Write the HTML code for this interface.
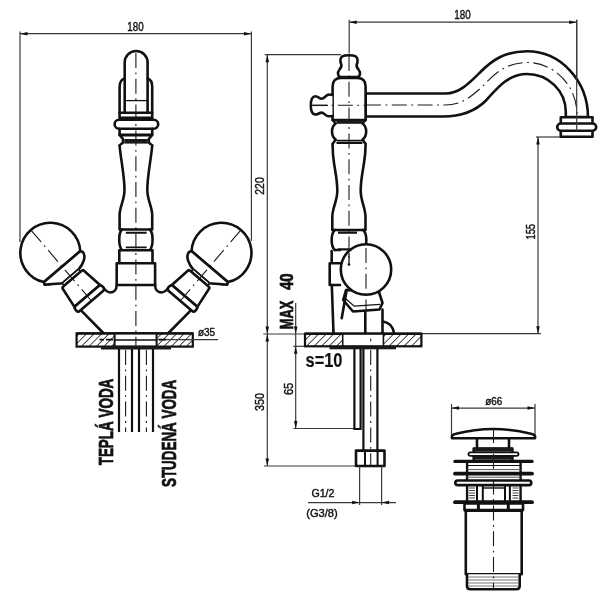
<!DOCTYPE html>
<html><head><meta charset="utf-8"><style>
html,body{margin:0;padding:0;background:#fff;}
svg{display:block;filter:grayscale(100%);}
text{font-family:"Liberation Sans",sans-serif;fill:#111;stroke:#111;stroke-width:0.4;}
text.b{stroke-width:0.7;}
.k{fill:none;stroke:#111;stroke-width:2.6;stroke-linejoin:round;stroke-linecap:round;}
.kw{fill:#fff;stroke:#111;stroke-width:2.6;stroke-linejoin:round;stroke-linecap:round;}
.t{fill:none;stroke:#111;stroke-width:1.3;}
.d{fill:none;stroke:#3a3a3a;stroke-width:1.2;}
.c{fill:none;stroke:#1a1a1a;stroke-width:1.1;stroke-dasharray:15 4.5 1.8 4.5;}
.ar{fill:#111;stroke:none;}
.dk{fill:#1a1a1a;stroke:none;}
</style></head><body>
<svg width="608" height="600" viewBox="0 0 608 600">
<defs>
<pattern id="h" patternUnits="userSpaceOnUse" width="5.3" height="5.3" patternTransform="rotate(45)">
<rect width="5.3" height="5.3" fill="#fff"/><line x1="0" y1="0" x2="0" y2="5.3" stroke="#111" stroke-width="1.55"/>
</pattern>
</defs>
<rect width="608" height="600" fill="#fff"/>

<line class="d" x1="20" y1="31.5" x2="20" y2="242"/>
<line class="d" x1="251.4" y1="31.5" x2="251.4" y2="241"/>
<line class="d" x1="20" y1="33.7" x2="251.4" y2="33.7"/>
<polygon class="ar" points="20.00,33.70 27.50,31.95 27.50,35.45"/>
<polygon class="ar" points="251.40,33.70 243.90,35.45 243.90,31.95"/>
<text x="135.5" y="30.6" font-size="12.5" font-weight="normal" textLength="16.4" lengthAdjust="spacingAndGlyphs" text-anchor="middle">180</text>
<path class="kw" d="M124.7,113 V62.45 A11.45,11.45 0 0 1 147.6,62.45 V113"/>
<line class="t" x1="124.7" y1="100.6" x2="147.6" y2="100.6"/>
<path class="k" d="M119.6,112.7 V87 Q119.6,80 124.7,78.6"/>
<path class="k" d="M152.2,112.7 V87 Q152.2,80 147.6,78.6"/>
<rect class="kw" x="119.6" y="112.7" width="32.6" height="5.2"/>
<rect class="kw" x="114.6" y="119.8" width="43.6" height="8.9" rx="4.45"/>
<path class="k" d="M119.6,128.7 V134.9 M152.2,128.7 V134.9"/>
<line x1="119.6" y1="134.9" x2="152.2" y2="134.9" stroke="#111" stroke-width="3"/>
<path class="k" d="M119.6,134.9 L123,139 L123,142.5 L119.6,145.5"/>
<path class="k" d="M152.2,134.9 L148.8,139 L148.8,142.5 L152.2,145.5"/>
<rect class="dk" x="124.3" y="139" width="23.5" height="4.6"/>
<path class="kw" d="M119.6,145.5 C120.5,158 124.5,175 124.5,190 C124.5,200 119.6,207 119.6,215 V229.5 H152.2 V215 C152.2,207 147.3,200 147.3,190 C147.3,175 151.3,158 152.2,145.5"/>
<path class="k" d="M122,229.5 C118.3,233 118.3,246 122,250.2 M149.8,229.5 C153.5,233 153.5,246 149.8,250.2"/>
<path d="M125.8,232.8 H146.6 M125.8,247.4 H146.6" stroke="#111" stroke-width="1.9"/>
<rect class="kw" x="119.3" y="250.2" width="33.2" height="13.1"/>
<rect class="kw" x="116.7" y="263.3" width="38.4" height="21.7"/>
<g id="hl">
<path class="k" d="M81.5,310.8 L103.3,333"/>
<path class="k" d="M103,287.5 C105.5,290.5 107.5,292.5 110.3,292.5 C113.5,292.5 116.7,290 116.7,285"/>
<g transform="translate(50.2,252.6) rotate(49.5)">
<path class="kw" d="M18.4,-23.85 A30,30 0 1 0 18.4,23.85 Z"/>
<path class="kw" d="M18.4,-23.85 L20.6,-25.2 C26.5,-25.2 30.2,-17.5 31.3,-10.5 L31.3,10.5 C28,15 24.5,20.5 20.6,25.2 L18.4,23.85 Z"/>
<rect x="31" y="-10.8" width="3.2" height="21.6" rx="1.2" fill="#fff" stroke="#111" stroke-width="1.5"/>
<path class="kw" d="M57,-16.8 L35,-13.8 Q34.2,-13.7 34.2,-11 L34.2,11 Q34.2,13.7 35,13.8 L57,16.8 Z"/>
<rect class="kw" x="57" y="-17.8" width="6.6" height="35.6" rx="2.6"/>
<line class="c" x1="-29" y1="0" x2="63" y2="0"/>
</g></g>
<use href="#hl" transform="translate(271.8,0) scale(-1,1)"/>
<rect x="76.6" y="333.4" width="116.2" height="13.2" fill="url(#h)" stroke="#111" stroke-width="2.2"/>
<line x1="76.6" y1="333.4" x2="192.8" y2="333.4" stroke="#111" stroke-width="2.4"/>
<rect x="114.6" y="333.6" width="42" height="12.8" fill="#fff" stroke="#111" stroke-width="2"/>
<line x1="114.6" y1="340" x2="156.6" y2="340" stroke="#111" stroke-width="1.6"/>
<rect class="dk" x="101" y="346.5" width="70" height="3"/>
<path d="M119,349 V432 M132,349 V432 M139,349 V432 M153,349 V432" stroke="#111" stroke-width="2.2" fill="none"/>
<path class="c" d="M125.6,350 V432 M146.4,350 V432"/>
<line class="d" x1="157" y1="339.7" x2="218" y2="339.7"/>
<path d="M99.5,339.6 H104 M106,339.6 H113" stroke="#111" stroke-width="1.8"/>
<path d="M159,339.6 H166" stroke="#111" stroke-width="1.8"/>
<text x="198" y="336.3" font-size="10.5" font-weight="normal" textLength="17.1" lengthAdjust="spacingAndGlyphs" text-anchor="start">ø35</text>
<text class="b" x="113" y="465.3" font-size="19.5" font-weight="bold" textLength="86.6" lengthAdjust="spacingAndGlyphs" text-anchor="start" transform="rotate(-90 113 465.3)">TEPLÁ VODA</text>
<text class="b" x="175.5" y="487" font-size="19.5" font-weight="bold" textLength="107.2" lengthAdjust="spacingAndGlyphs" text-anchor="start" transform="rotate(-90 175.5 487)">STUDENÁ VODA</text>
<line class="d" x1="349.2" y1="19.8" x2="349.2" y2="53.5"/>
<line class="d" x1="576.7" y1="19.8" x2="576.7" y2="131"/>
<line class="d" x1="349.2" y1="22.2" x2="576.7" y2="22.2"/>
<polygon class="ar" points="349.20,22.20 356.70,20.45 356.70,23.95"/>
<polygon class="ar" points="576.70,22.20 569.20,23.95 569.20,20.45"/>
<text x="462.5" y="19" font-size="12.5" font-weight="normal" textLength="16.4" lengthAdjust="spacingAndGlyphs" text-anchor="middle">180</text>
<line class="d" x1="264.7" y1="54.7" x2="341" y2="54.7"/>
<line class="d" x1="267.3" y1="54.7" x2="267.3" y2="466"/>
<polygon class="ar" points="267.30,54.70 269.05,62.20 265.55,62.20"/>
<polygon class="ar" points="267.30,334.00 265.55,326.50 269.05,326.50"/>
<polygon class="ar" points="267.30,334.00 269.05,341.50 265.55,341.50"/>
<polygon class="ar" points="267.30,466.00 265.55,458.50 269.05,458.50"/>
<text x="264.5" y="194.7" font-size="12.5" font-weight="normal" textLength="17.4" lengthAdjust="spacingAndGlyphs" text-anchor="start" transform="rotate(-90 264.5 194.7)">220</text>
<line class="d" x1="263.3" y1="334" x2="305" y2="334"/>
<line class="d" x1="421" y1="333.7" x2="541" y2="333.7"/>
<line class="d" x1="295.7" y1="303" x2="295.7" y2="428.5"/>
<polygon class="ar" points="295.70,334.00 293.95,326.50 297.45,326.50"/>
<polygon class="ar" points="295.70,346.30 297.45,353.80 293.95,353.80"/>
<polygon class="ar" points="295.70,428.50 293.95,421.00 297.45,421.00"/>
<line class="d" x1="293.3" y1="346.3" x2="305" y2="346.3"/>
<text class="b" x="292.8" y="329.2" font-size="18" font-weight="bold" textLength="28.6" lengthAdjust="spacingAndGlyphs" text-anchor="start" transform="rotate(-90 292.8 329.2)">MAX</text>
<text class="b" x="292.8" y="290.1" font-size="18" font-weight="bold" textLength="16.9" lengthAdjust="spacingAndGlyphs" text-anchor="start" transform="rotate(-90 292.8 290.1)">40</text>
<text x="264.1" y="410.9" font-size="12.5" font-weight="normal" textLength="18" lengthAdjust="spacingAndGlyphs" text-anchor="start" transform="rotate(-90 264.1 410.9)">350</text>
<text x="292.9" y="395.1" font-size="12.5" font-weight="normal" textLength="12.3" lengthAdjust="spacingAndGlyphs" text-anchor="start" transform="rotate(-90 292.9 395.1)">65</text>
<line class="d" x1="293.4" y1="428.5" x2="354" y2="428.5"/>
<line class="d" x1="264" y1="466" x2="356" y2="466"/>
<line class="d" x1="536" y1="137" x2="561" y2="137"/>
<line class="d" x1="538" y1="137" x2="538" y2="333.7"/>
<polygon class="ar" points="538.00,137.00 539.75,144.50 536.25,144.50"/>
<polygon class="ar" points="538.00,333.70 536.25,326.20 539.75,326.20"/>
<text x="534.5" y="239.5" font-size="12.5" font-weight="normal" textLength="15.5" lengthAdjust="spacingAndGlyphs" text-anchor="start" transform="rotate(-90 534.5 239.5)">155</text>
<path class="kw" d="M365.7,93.5 L446,93.5 C460,93.5 470,82 480,72.5 C492,60 505,51.3 527,51.3 A61,66 0 0 1 588,117 L565.8,117 L565.8,112 A38.8,38 0 0 0 527,74 C508,74 497,88.5 486,100.5 C476,110.5 463,116.5 443,116.5 L365.7,116.5 Z"/>
<path class="c" d="M366,105 L445,105 C462,105 472,96 483,86 C494,74 506,62.5 527,62.5 A50,52 0 0 1 577,114.5"/>
<rect class="kw" x="560.8" y="117.3" width="31.7" height="19.4"/>
<rect class="kw" x="557.2" y="123.5" width="39" height="7.2" rx="3.6"/>
<path class="kw" d="M340.5,77 C337.6,76.5 337.4,72 339.2,70 C340.9,68 341.9,66.5 341.3,64.5 C340.1,62 339.8,57.8 342.3,56.3 C345,54.9 353,54.9 355.7,56.3 C358.2,57.8 357.9,62 356.7,64.5 C356.1,66.5 357.1,68 358.8,70 C360.6,72 360.4,76.5 357.5,77 Z"/>
<path class="kw" d="M332.6,120 V86.5 Q332.6,78 341,78 H357.4 Q365.6,78 365.6,86.5 V120 Z"/>
<path class="kw" d="M332.5,95 C330.5,94.3 329,94.4 327.5,95 C325.5,95.8 324,98.8 321.5,98.8 C319.5,98.8 318,96.3 315.5,96.3 C312.5,96.3 310.8,99 310.8,105.5 C310.8,112 312.5,114.5 315.5,114.5 C318,114.5 319.5,112.6 321.5,112.6 C324,112.6 325.5,116 328,116.2 C329.5,116.3 331,116.3 332.5,116"/>
<line class="t" x1="312.5" y1="105.4" x2="328" y2="105.4"/>
<path class="k" d="M332.6,120 L335.7,123.5 C330.8,127 330.8,136 335.7,139.6 L332.6,144"/>
<path class="k" d="M365.6,120 L362.5,123.5 C367.4,127 367.4,136 362.5,139.6 L365.6,144"/>
<rect class="dk" x="336.5" y="120.3" width="26" height="3.5"/>
<path d="M336.5,140.6 H362.4 M336.5,143 H362.4" stroke="#111" stroke-width="1.8"/>
<path class="kw" d="M332.6,144 C332.6,152 333,157 334,163 C335.5,173 337.3,180 337.3,191 C337.3,201 332.3,208 332.3,217 V230 H365.5 V217 C365.5,208 360.7,201 360.7,191 C360.7,180 362.5,173 364,163 C365,157 365.6,152 365.6,144"/>
<path class="k" d="M334.8,230 C330.6,234 330.6,246 334.8,250 M363.2,230 C367.4,234 367.4,246 363.2,250"/>
<path d="M338,232.7 H357 M338,249.3 H357" stroke="#111" stroke-width="2.2"/>
<path class="k" d="M334.8,250 H340 M331.7,251 V263.3 M329.7,263.3 V285 H340 M329.7,263.3 H340"/>
<path class="k" d="M331.8,285 L333.5,333"/>
<path class="kw" d="M346,290 L343.2,300 L353,311.5 L379.5,309.5 L382.5,303 L379,292 Z"/>
<path class="t" d="M345.3,298.5 L354.3,306.2 L380.2,304.3"/>
<path class="k" d="M346.7,290 L341.7,318.3"/>
<path class="k" d="M365.3,311.5 V333 M382.5,309.5 V333"/>
<path class="k" d="M383,321.5 Q392.5,323 394,333"/>
<circle class="kw" cx="366" cy="269.5" r="25.2"/>
<path class="t" d="M349,253 V264"/><circle cx="349" cy="264.5" r="1.3" fill="#111"/>
<rect x="305" y="333.7" width="116.4" height="12.6" fill="url(#h)" stroke="#111" stroke-width="2.2"/>
<line x1="305" y1="333.7" x2="421.4" y2="333.7" stroke="#111" stroke-width="2.4"/>
<rect x="342.7" y="334" width="40.7" height="12" fill="#fff" stroke="#111" stroke-width="1.6"/>
<rect class="dk" x="329.5" y="346.4" width="66.5" height="2.9"/>
<text style="stroke-width:0.15" x="305.5" y="367" font-size="20" font-weight="bold" textLength="37" lengthAdjust="spacingAndGlyphs" text-anchor="start">s=10</text>
<path d="M354.4,349 V429 H360.6 V349 M363.4,349 V451 M377.4,349 V451" stroke="#111" stroke-width="2.2" fill="none"/>
<rect class="kw" x="356" y="450.6" width="28.5" height="15.4"/>
<path d="M365,450.6 V466 M377.6,450.6 V466" stroke="#111" stroke-width="2"/>
<path class="d" d="M359.6,466 V505 M381.6,466 V505 M308,502.6 H396"/>
<polygon class="ar" points="359.60,502.60 352.10,504.35 352.10,500.85"/>
<polygon class="ar" points="381.60,502.60 389.10,500.85 389.10,504.35"/>
<text x="311.4" y="496.7" font-size="11.5" font-weight="normal" textLength="23.1" lengthAdjust="spacingAndGlyphs" text-anchor="start">G1/2</text>
<text x="306.2" y="517.3" font-size="11.5" font-weight="normal" textLength="31.6" lengthAdjust="spacingAndGlyphs" text-anchor="start">(G3/8)</text>
<path class="d" d="M451.5,404 V436 M535,404 V436 M451.5,408.1 H535"/>
<polygon class="ar" points="451.50,408.10 459.00,406.35 459.00,409.85"/>
<polygon class="ar" points="535.00,408.10 527.50,409.85 527.50,406.35"/>
<text x="485.2" y="405.1" font-size="10.5" font-weight="normal" textLength="17" lengthAdjust="spacingAndGlyphs" text-anchor="start">ø66</text>
<path d="M477,438 V449 M509,438 V449" stroke="#111" stroke-width="2.6"/>
<path class="kw" d="M452,438.2 Q451,434.8 456,433.8 Q493.5,424.3 531,433.8 Q536,434.8 535,438.2 Z"/>
<rect class="kw" x="473.7" y="448.5" width="38.7" height="12.5"/>
<rect class="dk" x="473.7" y="447.6" width="38.7" height="4"/>
<rect class="dk" x="473.7" y="456" width="38.7" height="3.6"/>
<rect x="468.5" y="452.3" width="50" height="3.6" rx="1.8" fill="#fff" stroke="#111" stroke-width="1.8"/>
<path d="M467.1,461 V509 M520.6,461 V509" stroke="#111" stroke-width="2.4"/>
<line x1="455" y1="461.4" x2="532" y2="461.4" stroke="#111" stroke-width="3.4" stroke-linecap="round"/>
<line x1="467" y1="465.5" x2="520.6" y2="465.5" stroke="#111" stroke-width="1"/>
<line x1="467" y1="469.6" x2="520.6" y2="469.6" stroke="#555" stroke-width="1"/>
<line x1="455" y1="473.7" x2="532" y2="473.7" stroke="#111" stroke-width="3.8" stroke-linecap="round"/>
<line x1="467" y1="477.2" x2="520.6" y2="477.2" stroke="#555" stroke-width="1"/>
<rect class="kw" x="455.3" y="480.5" width="76" height="4.6" rx="2.3"/>
<path d="M477,485 V502 M482.8,485 V502 M505,485 V502 M509.9,485 V502" stroke="#111" stroke-width="2"/>
<path d="M483,488 H505" stroke="#111" stroke-width="1.4"/>
<path d="M469,488 H475 M512.5,488 H518.5" stroke="#444" stroke-width="1"/>
<path d="M469,490.5 H475 M512.5,490.5 H518.5" stroke="#444" stroke-width="1"/>
<path d="M469,493 H475 M512.5,493 H518.5" stroke="#444" stroke-width="1"/>
<path d="M469,495.5 H475 M512.5,495.5 H518.5" stroke="#444" stroke-width="1"/>
<path d="M469,498 H475 M512.5,498 H518.5" stroke="#444" stroke-width="1"/>
<line x1="455" y1="502.2" x2="532" y2="502.2" stroke="#111" stroke-width="3.8" stroke-linecap="round"/>
<rect class="kw" x="464.5" y="503.5" width="58.5" height="6.6"/>
<path d="M478.4,503.5 V510 M508.3,503.5 V510" stroke="#111" stroke-width="3"/>
<line x1="464.5" y1="510.5" x2="523" y2="510.5" stroke="#111" stroke-width="2.8"/>
<path class="k" d="M465.8,510.5 V574.2 H521.7 V510.5"/>
<path class="kw" d="M467,574.2 V586 Q467,589.2 470.5,589.2 H516.2 Q519.7,589.2 519.7,586 V574.2"/>
<line x1="468" y1="577" x2="518.5" y2="577" stroke="#666" stroke-width="0.9"/>
<line x1="468" y1="580" x2="518.5" y2="580" stroke="#666" stroke-width="0.9"/>
<line x1="468" y1="583" x2="518.5" y2="583" stroke="#666" stroke-width="0.9"/>
<line x1="468" y1="586" x2="518.5" y2="586" stroke="#666" stroke-width="0.9"/>
<line class="c" x1="135.9" y1="53" x2="135.9" y2="346"/>
<line class="c" x1="349" y1="56" x2="349" y2="262"/>
<line class="c" x1="312" y1="105.3" x2="366" y2="105.3"/>
<line class="d" x1="576.7" y1="19.8" x2="576.7" y2="131"/>
<line class="c" x1="366" y1="248" x2="366" y2="310"/>
<line class="c" x1="370.7" y1="350" x2="370.7" y2="466"/>
<line x1="370.7" y1="338.5" x2="370.7" y2="341.5" stroke="#222" stroke-width="1"/>
<line class="c" x1="493.5" y1="428" x2="493.5" y2="590"/>
</svg></body></html>
